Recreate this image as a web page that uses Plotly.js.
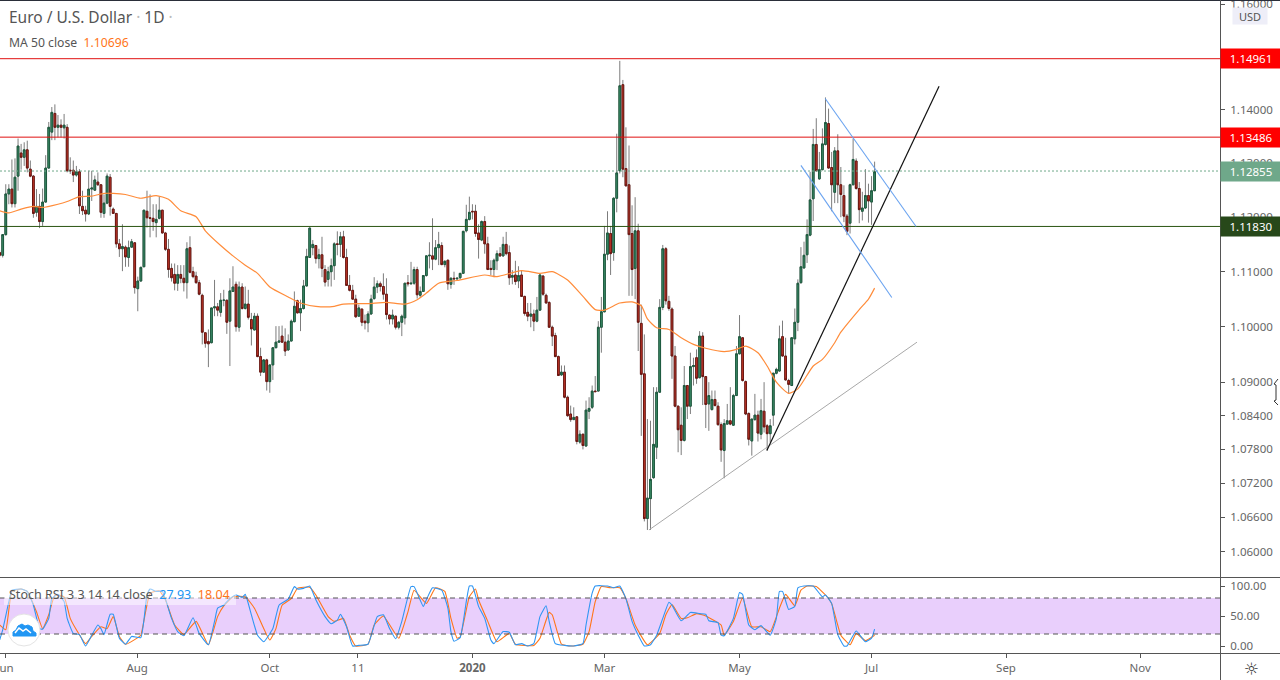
<!DOCTYPE html>
<html>
<head>
<meta charset="utf-8">
<script src="https://cdn.plot.ly/plotly-3.0.1.min.js"></script>
<style>html,body{margin:0;padding:0;background:#fff;overflow:hidden}#chart{width:1280px;height:680px}</style>
</head>
<body>
<div id="chart"></div>
<script>
const firstBar = -1;
const opens = [
1.1135,1.1130,1.1168,1.1243,1.1252,1.1225,1.1276,1.1319,1.1311,1.1325,
1.1289,1.1276,1.1209,1.1220,1.1192,1.1228,1.1291,1.1358,1.1393,1.1367,1.1371,
1.1366,1.1367,1.1287,1.1287,1.1278,1.1284,1.1220,1.1213,1.1206,1.1252,
1.1250,1.1265,1.1260,1.1207,1.1226,1.1274,1.1215,1.1207,1.1151,1.1142,
1.1145,1.1126,1.1145,1.1153,1.1069,1.1083,1.1109,1.1211,1.1199,1.1198,
1.1190,1.1198,1.1213,1.1171,1.1141,1.1106,1.1095,1.1079,1.1095,1.1088,
1.1080,1.1144,1.1100,1.1092,1.1080,1.1057,1.0989,1.0973,1.0971,1.1034,
1.1036,1.1026,1.1048,1.1048,1.1010,1.1064,1.1077,1.0999,1.1072,1.1033,
1.1041,1.1013,1.0994,1.1019,1.0946,1.0918,1.0940,1.0901,1.0931,1.0962,
1.0972,1.0983,1.0972,1.0958,1.0974,1.1009,1.1047,1.1025,1.1033,1.1074,
1.1126,1.1144,1.1148,1.1124,1.1131,1.1104,1.1086,1.1100,1.1111,1.1151,
1.1150,1.1164,1.1126,1.1075,1.1066,1.1050,1.1019,1.1032,1.1010,1.1007,
1.1023,1.1051,1.1072,1.1078,1.1073,1.1059,1.1021,1.1014,1.1019,1.0999,
1.1008,1.1016,1.1080,1.1078,1.1079,1.1104,1.1057,1.1064,1.1093,1.1129,
1.1129,1.1123,1.1144,1.1148,1.1113,1.1121,1.1077,1.1088,1.1087,1.1089,
1.1097,1.1175,1.1196,1.1211,1.1211,1.1171,1.1158,1.1192,1.1151,1.1106,
1.1104,1.1120,1.1133,1.1129,1.1150,1.1135,1.1090,1.1094,1.1083,1.1094,
1.1055,1.1026,1.1019,1.1023,1.1010,1.1030,1.1092,1.1057,1.1044,1.0999,
1.0984,1.0946,1.0913,1.0918,1.0873,1.0843,1.0833,1.0838,1.0793,1.0807,
1.0786,1.0848,1.0855,1.0884,1.0884,1.0999,1.1027,1.1132,1.1170,1.1135,
1.1235,1.1286,1.1447,1.1290,1.1260,1.1170,1.1106,1.1175,1.1006,1.0915,
1.0658,1.0693,1.0730,1.0784,1.0882,1.1035,1.1142,1.1046,1.1032,1.0947,
1.0857,1.0823,1.0796,1.0894,1.0857,1.0928,1.0944,1.0908,1.0983,1.0910,
1.0861,1.0851,1.0869,1.0857,1.0824,1.0778,1.0825,1.0831,1.0823,1.0876,
1.0951,1.0980,1.0901,1.0844,1.0795,1.0833,1.0841,1.0807,1.0848,1.0822,
1.0808,1.0841,1.0916,1.0920,1.0982,1.0947,1.0903,1.0894,1.0978,1.1008,
1.1080,1.1107,1.1131,1.1167,1.1234,1.1335,1.1271,1.1288,1.1335,1.1374,
1.1292,1.1246,1.1323,1.1260,1.1240,1.1202,1.1189,1.1260,1.1304,1.1253,
1.1211,1.1217,1.1240,1.1228,1.1249];
const highs = [
1.1139,1.1169,1.1261,1.1261,1.1307,1.1309,1.1346,1.1336,1.1339,1.1342,
1.1305,1.1278,1.1252,1.1243,1.1253,1.1315,1.1377,1.1405,1.1410,1.1390,1.1382,
1.1392,1.1373,1.1311,1.1305,1.1295,1.1289,1.1249,1.1221,1.1286,1.1286,
1.1277,1.1283,1.1261,1.1242,1.1281,1.1280,1.1218,1.1207,1.1160,1.1187,
1.1148,1.1157,1.1160,1.1153,1.1091,1.1109,1.1213,1.1249,1.1242,1.1224,
1.1224,1.1238,1.1213,1.1173,1.1160,1.1115,1.1115,1.1112,1.1112,1.1112,
1.1154,1.1165,1.1109,1.1100,1.1085,1.1060,1.0989,1.0995,1.1034,1.1085,
1.1043,1.1061,1.1067,1.1049,1.1088,1.1110,1.1082,1.1082,1.1079,1.1073,
1.1067,1.1025,1.1025,1.1024,1.0962,1.0941,1.0942,1.0931,1.0962,1.1001,
1.1001,1.1002,1.0997,1.0986,1.1013,1.1064,1.1049,1.1049,1.1085,1.1142,
1.1181,1.1158,1.1148,1.1142,1.1164,1.1112,1.1109,1.1124,1.1154,1.1174,
1.1173,1.1175,1.1142,1.1094,1.1076,1.1058,1.1040,1.1032,1.1022,1.1028,
1.1058,1.1090,1.1084,1.1082,1.1097,1.1088,1.1022,1.1031,1.1020,1.1010,
1.1022,1.1079,1.1094,1.1118,1.1109,1.1109,1.1073,1.1094,1.1130,1.1154,
1.1198,1.1158,1.1173,1.1154,1.1121,1.1122,1.1090,1.1100,1.1090,1.1097,
1.1175,1.1223,1.1238,1.1224,1.1223,1.1187,1.1194,1.1202,1.1164,1.1121,
1.1124,1.1139,1.1145,1.1164,1.1173,1.1148,1.1103,1.1120,1.1110,1.1103,
1.1056,1.1043,1.1043,1.1031,1.1054,1.1096,1.1094,1.1060,1.1046,1.1002,
1.0989,1.0948,1.0930,1.0930,1.0876,1.0858,1.0855,1.0839,1.0814,1.0808,
1.0867,1.0873,1.0894,1.0911,1.1010,1.1054,1.1184,1.1211,1.1184,1.1237,
1.1355,1.1492,1.1456,1.1367,1.1333,1.1222,1.1237,1.1188,1.1040,1.0986,
1.0834,1.0831,1.0891,1.0891,1.1050,1.1149,1.1145,1.1056,1.1035,1.0965,
1.0858,1.0855,1.0929,1.0895,1.0953,1.0944,1.0959,1.0992,1.0990,1.0911,
1.0900,1.0885,1.0885,1.0864,1.0828,1.0834,1.0861,1.0891,1.0879,1.0965,
1.1021,1.0980,1.0903,1.0846,1.0834,1.0879,1.0849,1.0870,1.0900,1.0825,
1.0834,1.0917,1.0926,1.1002,1.1011,1.0980,1.0906,1.0980,1.1033,1.1086,
1.1145,1.1155,1.1196,1.1284,1.1364,1.1384,1.1321,1.1365,1.1423,1.1402,
1.1321,1.1330,1.1354,1.1293,1.1259,1.1206,1.1262,1.1346,1.1309,1.1265,
1.1247,1.1289,1.1262,1.1276,1.1303];
const lows = [
1.1126,1.1126,1.1166,1.1224,1.1218,1.1218,1.1249,1.1288,1.1295,1.1283,
1.1274,1.1199,1.1201,1.1180,1.1184,1.1227,1.1290,1.1343,1.1343,1.1348,1.1348,
1.1346,1.1283,1.1280,1.1265,1.1275,1.1206,1.1204,1.1192,1.1204,1.1230,
1.1249,1.1258,1.1199,1.1199,1.1224,1.1203,1.1206,1.1144,1.1127,1.1101,
1.1109,1.1109,1.1144,1.1060,1.1028,1.1082,1.1109,1.1181,1.1163,1.1175,
1.1163,1.1196,1.1170,1.1138,1.1089,1.1082,1.1066,1.1065,1.1079,1.1064,
1.1051,1.1097,1.1088,1.1078,1.1057,1.0968,1.0962,1.0927,1.0970,1.1019,
1.1019,1.1018,1.1037,1.0987,1.0929,1.1064,1.0991,1.0991,1.1031,1.1031,
1.1013,1.0966,1.0994,1.0945,1.0911,1.0917,1.0885,1.0881,1.0904,1.0961,
1.0971,1.0971,1.0947,1.0956,1.0974,1.1008,1.1024,1.0992,1.1031,1.1073,
1.1126,1.1130,1.1115,1.1106,1.1090,1.1073,1.1073,1.1073,1.1085,1.1130,
1.1127,1.1124,1.1074,1.1064,1.1049,1.1016,1.1018,1.1001,1.0995,1.0990,
1.1022,1.1049,1.1061,1.1064,1.1049,1.1013,1.1004,1.1004,1.0995,1.0995,
1.0983,1.1004,1.1073,1.1076,1.1076,1.1051,1.1052,1.1063,1.1091,1.1106,
1.1103,1.1121,1.1112,1.1112,1.1108,1.1067,1.1069,1.1076,1.1084,1.1086,
1.1097,1.1172,1.1194,1.1196,1.1164,1.1124,1.1156,1.1133,1.1103,1.1094,
1.1090,1.1103,1.1127,1.1127,1.1130,1.1076,1.1077,1.1076,1.1070,1.1054,
1.1020,1.1010,1.0999,1.0992,1.1008,1.1030,1.1056,1.1042,1.0998,1.0965,
1.0945,1.0911,1.0911,1.0871,1.0838,1.0829,1.0833,1.0789,1.0790,1.0780,
1.0785,1.0834,1.0852,1.0883,1.0884,1.0953,1.1026,1.1121,1.1094,1.1120,
1.1209,1.1281,1.1274,1.1257,1.1056,1.1056,1.1050,1.0956,1.0804,1.0653,
1.0638,1.0638,1.0728,1.0763,1.0881,1.1030,1.1040,1.1029,1.0906,1.0855,
1.0775,1.0770,1.0794,1.0834,1.0843,1.0894,1.0897,1.0907,1.0859,1.0818,
1.0813,1.0849,1.0857,1.0822,1.0758,1.0729,1.0824,1.0823,1.0822,1.0876,
1.0950,1.0901,1.0841,1.0787,1.0769,1.0831,1.0794,1.0798,1.0810,1.0778,
1.0792,1.0822,1.0914,1.0919,1.0946,1.0903,1.0879,1.0893,1.0968,1.0992,
1.1078,1.1105,1.1116,1.1165,1.1193,1.1284,1.1269,1.1287,1.1333,1.1290,
1.1211,1.1226,1.1226,1.1200,1.1191,1.1167,1.1170,1.1259,1.1251,1.1189,
1.1194,1.1215,1.1190,1.1186,1.1248];
const closes = [
1.1130,1.1168,1.1243,1.1252,1.1225,1.1274,1.1332,1.1311,1.1325,1.1291,
1.1276,1.1207,1.1220,1.1192,1.1228,1.1291,1.1367,1.1395,1.1367,1.1371,1.1367,
1.1371,1.1286,1.1286,1.1278,1.1284,1.1221,1.1212,1.1206,1.1252,1.1254,
1.1269,1.1260,1.1209,1.1226,1.1276,1.1220,1.1207,1.1151,1.1142,1.1146,
1.1127,1.1144,1.1155,1.1071,1.1083,1.1108,1.1213,1.1199,1.1198,1.1192,
1.1196,1.1213,1.1171,1.1141,1.1104,1.1089,1.1079,1.1095,1.1088,1.1080,
1.1142,1.1099,1.1091,1.1080,1.1059,1.0990,1.0970,1.0969,1.1034,1.1036,
1.1030,1.1048,1.1048,1.1008,1.1065,1.1072,1.1000,1.1072,1.1033,1.1041,
1.1017,1.0996,1.1019,1.0946,1.0918,1.0940,1.0901,1.0931,1.0962,1.0972,
1.0974,1.0972,1.0956,1.0974,1.1010,1.1037,1.1025,1.1033,1.1074,1.1128,
1.1180,1.1150,1.1124,1.1131,1.1106,1.1081,1.1100,1.1111,1.1151,1.1150,
1.1164,1.1126,1.1075,1.1066,1.1050,1.1018,1.1034,1.1008,1.1007,1.1023,
1.1050,1.1072,1.1078,1.1073,1.1059,1.1022,1.1014,1.1021,1.0999,1.1008,
1.1019,1.1079,1.1078,1.1079,1.1104,1.1058,1.1064,1.1093,1.1129,1.1130,
1.1123,1.1144,1.1150,1.1113,1.1119,1.1078,1.1088,1.1087,1.1088,1.1097,
1.1174,1.1196,1.1209,1.1210,1.1170,1.1159,1.1192,1.1151,1.1104,1.1104,
1.1121,1.1133,1.1129,1.1150,1.1133,1.1089,1.1093,1.1082,1.1093,1.1055,
1.1024,1.1019,1.1023,1.1010,1.1030,1.1094,1.1059,1.1043,1.0999,1.0983,
1.0946,1.0912,1.0918,1.0873,1.0840,1.0833,1.0837,1.0794,1.0807,1.0787,
1.0850,1.0853,1.0884,1.0883,1.0999,1.1027,1.1132,1.1171,1.1133,1.1235,
1.1282,1.1445,1.1289,1.1258,1.1168,1.1104,1.1175,1.1008,1.0914,1.0658,
1.0694,1.0727,1.0789,1.0882,1.1035,1.1142,1.1047,1.1033,1.0947,1.0857,
1.0815,1.0796,1.0894,1.0857,1.0928,1.0930,1.0907,1.0983,1.0910,1.0860,
1.0876,1.0869,1.0858,1.0824,1.0779,1.0826,1.0831,1.0825,1.0876,1.0951,
1.0982,1.0903,1.0843,1.0798,1.0834,1.0841,1.0809,1.0849,1.0820,1.0808,
1.0822,1.0916,1.0923,1.0978,1.0947,1.0904,1.0896,1.0980,1.1008,1.1079,
1.1109,1.1130,1.1168,1.1232,1.1335,1.1286,1.1288,1.1336,1.1376,1.1291,
1.1260,1.1323,1.1260,1.1242,1.1202,1.1174,1.1260,1.1307,1.1253,1.1214,
1.1217,1.1240,1.1230,1.1249,1.1284];

const maBars = [-1,2,6,10,13,18,21,25,29,33,36,40,45,50,54,58,63,66,71,75,79,83,87,93,97,102,108,111,119,125,131,135,138,142,148,157,161,169,175,179,184,189,193,196,201,205,208,210,213,217,221,225,229,235,239,242,246,249,252,256,259,264,267,271,273,279,282,284];
const maValues = [1.1212,1.1208,1.1215,1.1220,1.1218,1.1224,1.1229,1.1238,1.1239,1.1244,1.1244,1.1242,1.1235,1.1240,1.1233,1.1212,1.1201,1.1175,1.1148,1.1129,1.1112,1.1097,1.1072,1.1054,1.1043,1.1037,1.1037,1.1041,1.1042,1.1044,1.1041,1.1049,1.1061,1.1079,1.1084,1.1094,1.1091,1.1102,1.1097,1.1100,1.1085,1.1055,1.1031,1.1030,1.1043,1.1045,1.1038,1.1014,1.0998,1.0995,1.0980,1.0968,1.0961,1.0955,1.0959,1.0965,1.0953,1.0929,1.0900,1.0880,1.0888,1.0929,1.0941,1.0971,1.0990,1.1031,1.1050,1.1070];

const kBars = [-1,0,2,3,6,8,10,12,13,15,16,18,20,21,23,25,27,29,31,32,33,35,36,38,40,42,45,47,48,50,52,55,57,59,62,64,67,69,70,72,74,76,78,79,81,83,85,88,90,93,95,96,98,100,102,105,107,109,110,112,114,116,119,122,124,126,128,130,133,134,137,138,140,143,145,146,147,149,151,152,153,155,157,159,160,163,165,167,169,171,173,175,177,178,180,183,186,189,190,192,193,197,199,201,203,205,207,209,211,213,215,217,218,221,224,227,229,230,233,234,235,238,240,241,243,245,247,250,252,253,254,256,258,259,261,264,267,268,270,272,274,275,278,281,283,284];
const kValues = [10,27,74,93,95,91,68,29,28,46,79,86,74,46,21,19,0,18,35,29,19,53,53,13,3,16,14,85,95,91,91,46,24,17,47,21,2,41,63,68,79,85,81,86,52,18,7,29,68,78,99,95,96,100,77,49,37,43,53,32,0,1,3,49,52,29,12,41,99,99,66,77,97,93,63,24,8,14,74,100,100,66,46,10,4,24,23,2,4,0,4,49,67,41,4,1,0,4,35,88,100,100,97,100,79,41,18,0,2,18,46,73,68,42,56,54,53,42,39,18,17,46,89,86,35,27,34,18,46,91,91,61,66,97,100,100,82,85,71,19,0,0,25,7,13,28];
const dBars = [-1,1,3,6,8,11,13,15,17,20,22,24,27,29,32,34,36,38,40,44,45,48,51,53,56,59,63,67,70,72,75,79,82,87,89,91,94,96,100,102,106,108,111,113,115,119,121,124,129,132,134,138,141,144,146,148,149,152,154,155,158,161,165,167,173,175,178,179,182,185,189,191,193,195,198,201,203,206,210,214,216,218,221,223,226,229,234,235,238,241,244,247,250,253,255,258,260,262,265,268,270,273,276,278,281,284];
const dValues = [35,27,91,95,91,57,29,52,85,82,46,27,4,16,32,29,49,16,3,14,18,88,92,77,35,19,41,2,49,67,82,82,63,10,29,68,79,96,98,85,49,41,46,18,0,3,35,50,13,57,93,71,97,91,46,13,15,82,95,77,41,7,21,3,1,13,56,52,3,0,3,24,74,99,97,97,79,35,2,21,52,69,46,47,54,50,35,18,41,80,32,32,24,63,86,67,93,100,99,85,71,18,2,21,9,18];

const grayLineBars = [210.5,297.8];   const grayLinePrices = [1.0638,1.0972];
const blackLineBars = [248.9,305];    const blackLinePrices = [1.0778,1.1444];
const blueUpperBars = [267.9,297.5];  const blueUpperPrices = [1.1421,1.1183];
const blueLowerBars = [260,289.6];    const blueLowerPrices = [1.1296,1.1053];

const priceTicks = [1.06,1.066,1.072,1.078,1.084,1.09,1.10,1.11,1.12,1.13,1.14,1.16];
const priceTickText = ['1.06000','1.06600','1.07200','1.07800','1.08400','1.09000','1.10000','1.11000','1.12000','1.13000','1.14000','1.16000'];
const stochTicks = [0,50,100];
const stochTickText = ['0.00','50.00','100.00'];
const timeTicks = [0.75,43.8,87,115.7,153,196,240,283,326.8,370.5];
const timeTickText = ['Jun','Aug','Oct','11','<b>2020</b>','Mar','May','Jul','Sep','Nov'];
const levels = [1.14961,1.13486,1.12855,1.1183];
const levelText = ['1.14961','1.13486','1.12855','1.11830'];

const W = 1280, H = 680, AX = 1220;
const px = x => x / W, py = y => 1 - y / H;
const xRange = [-0.879, 396.5];
const FONT = '"Noto Sans", "Open Sans", sans-serif';
const GRN = '#3f8f6b', GRNB = '#1c5a3e', RED = '#c93a2a', REDB = '#6b1510', WICK = '#7c7c7c';
const bars = opens.map((_, i) => i + firstBar);
const bodyHigh = opens.map((o, i) => Math.max(o, closes[i]));
const bodyLow = opens.map((o, i) => Math.min(o, closes[i]));
const levelColors = ['#e01010','#e01010','#6fa88a','#2a5410'];
const tagColors = ['#ff0000','#ff0000','#6fa88a','#27481a'];

const candle = (h, l, ic, ifill, dc, dfill) => ({
  type: 'candlestick', x: bars, open: opens, high: h, low: l, close: closes,
  xaxis: 'x', yaxis: 'y', hoverinfo: 'skip', showlegend: false, whiskerwidth: 0,
  increasing: {line: {color: ic, width: 1}, fillcolor: ifill},
  decreasing: {line: {color: dc, width: 1}, fillcolor: dfill}
});
const lineT = (x, y, color, width, extra) => Object.assign({
  type: 'scatter', mode: 'lines', x, y, xaxis: 'x', yaxis: 'y', hoverinfo: 'skip', showlegend: false,
  line: {color, width}
}, extra || {});

const traces = [
  candle(highs, lows, WICK, WICK, WICK, WICK),
  candle(bodyHigh, bodyLow, GRNB, GRN, REDB, RED),
  lineT(maBars, maValues, '#ff8c3a', 1.2, {line: {color: '#ff8c3a', width: 1.2, shape: 'spline', smoothing: 0.6}}),
  ...levels.map((v, i) => lineT(xRange, [v, v], levelColors[i], 1, i === 2 ? {line: {color: levelColors[i], width: 1, dash: '2px,2px'}} : {})),
  lineT(grayLineBars, grayLinePrices, '#a8a8a8', 1),
  lineT(blackLineBars, blackLinePrices, '#111111', 1.2),
  lineT(blueUpperBars, blueUpperPrices, '#6aa3f0', 1.1),
  lineT(blueLowerBars, blueLowerPrices, '#6aa3f0', 1.1),
  lineT(dBars, dValues, '#ff7518', 1.1, {yaxis: 'y2', line: {color: '#ff7518', width: 1.1, shape: 'spline', smoothing: 0.4}}),
  lineT(kBars, kValues, '#2f96f3', 1.1, {yaxis: 'y2', line: {color: '#2f96f3', width: 1.1, shape: 'spline', smoothing: 0.4}})
];

const fullLine = (y, color) => ({type: 'line', xref: 'paper', yref: 'paper', x0: 0, x1: 1, y0: py(y), y1: py(y), line: {color, width: 1}});
const pathOf = pts => 'M' + pts.map(p => px(p[0]) + ',' + py(p[1])).join(' L');
const cloud = pathOf([[13,636],[13,632],[16,630],[18,626],[22,624],[25,626],[28,625],[32,627],[33,631],[36,633],[36,636]]) + ' Z';
const zig = pathOf([[15,633],[19,628],[23,631],[26,629],[31,633]]);
const pointer = pathOf([[1278,379],[1274,384],[1276,385],[1276,400],[1274,401],[1278,405]]);

const shapes = [
  {type: 'rect', xref: 'paper', yref: 'y2', x0: 0, x1: px(AX), y0: 20, y1: 80, fillcolor: '#e9cffc', line: {width: 0}, layer: 'below'},
  {type: 'line', xref: 'paper', yref: 'y2', x0: 0, x1: px(AX), y0: 80, y1: 80, line: {color: '#555', width: 1, dash: '5px,4px'}, layer: 'above'},
  {type: 'line', xref: 'paper', yref: 'y2', x0: 0, x1: px(AX), y0: 20, y1: 20, line: {color: '#555', width: 1, dash: '5px,4px'}, layer: 'above'},
  fullLine(0.5, '#2a2e39'), fullLine(577.5, '#555'), fullLine(653.5, '#555'),
  {type: 'line', xref: 'paper', yref: 'paper', x0: px(AX + 0.5), x1: px(AX + 0.5), y0: 0, y1: 1, line: {color: '#555', width: 1}},
  {type: 'rect', xref: 'paper', yref: 'paper', x0: px(4), x1: px(236), y0: py(605), y1: py(586), fillcolor: 'rgba(255,255,255,0.5)', line: {width: 0}},
  {type: 'circle', xref: 'paper', yref: 'paper', x0: px(8), x1: px(40), y0: py(646), y1: py(614), fillcolor: '#ffffff', line: {color: '#e4e4e4', width: 1}},
  {type: 'path', xref: 'paper', yref: 'paper', path: cloud, fillcolor: '#2196f3', line: {color: '#2196f3', width: 1}},
  {type: 'path', xref: 'paper', yref: 'paper', path: zig, line: {color: '#ffffff', width: 1.5}},
  {type: 'path', xref: 'paper', yref: 'paper', path: pointer, line: {color: '#333333', width: 1}}
];

const textAt = (x, y, text, size, color, extra) => Object.assign({
  xref: 'paper', yref: 'paper', x: px(x), y: py(y), xanchor: 'left', yanchor: 'middle',
  text, showarrow: false, align: 'left', font: {family: FONT, size, color}
}, extra || {});

const annotations = [
  textAt(7, 17, 'Euro / U.S. Dollar <span style="color:#bbb">·</span> 1D <span style="color:#bbb">·</span>', 15.5, '#555'),
  textAt(7, 42, 'MA 50 close  <span style="color:#ff7518">1.10696</span>', 12.2, '#555'),
  textAt(7, 594, 'Stoch RSI 3 3 14 14 close  <span style="color:#2196f3">27.93</span>  <span style="color:#ff7518">18.04</span>', 12.5, '#555'),
  ...levels.map((v, i) => ({
    xref: 'paper', yref: 'y', x: px(AX), y: Math.log10(v), xanchor: 'left', yanchor: 'middle',
    text: levelText[i], showarrow: false, width: 60, height: 19, borderpad: 0, bgcolor: tagColors[i],
    font: {family: FONT, size: 11.5, color: '#ffffff'}
  })),
  {xref: 'paper', yref: 'paper', x: px(1250), y: py(16), xanchor: 'center', yanchor: 'middle', text: 'USD',
   showarrow: false, width: 34, height: 16, borderpad: 0, bgcolor: '#eeeef8', font: {family: FONT, size: 11, color: '#555'}},
  {xref: 'paper', yref: 'paper', x: px(1251), y: py(669), xanchor: 'center', yanchor: 'middle', text: '☼',
   showarrow: false, font: {family: 'DejaVu Sans', size: 17, color: '#333'}}
];

const yCommon = {
  side: 'right', anchor: 'x', showgrid: false, zeroline: false, showline: false,
  ticks: 'outside', ticklen: 4, tickwidth: 1, tickcolor: '#555', ticklabelstandoff: 3, ticklabeloverflow: 'allow',
  tickfont: {family: FONT, size: 11.5, color: '#666'}, tickmode: 'array', fixedrange: true
};
const layout = {
  width: W, height: H, margin: {l: 0, r: 0, t: 0, b: 0, pad: 0, autoexpand: false},
  paper_bgcolor: '#ffffff', plot_bgcolor: 'rgba(0,0,0,0)', showlegend: false, dragmode: false,
  boxgap: 0.2,
  xaxis: {
    type: 'linear', domain: [0, px(AX)], range: xRange, anchor: 'y2', rangeslider: {visible: false},
    showgrid: false, zeroline: false, showline: false, ticks: 'outside', ticklen: 4, tickwidth: 1, tickcolor: '#555',
    tickmode: 'array', tickvals: timeTicks, ticktext: timeTickText, tickangle: 0, automargin: false, ticklabeloverflow: 'allow',
    tickfont: {family: FONT, size: 11.5, color: '#666'}, fixedrange: true
  },
  yaxis: Object.assign({}, yCommon, {
    type: 'log', domain: [py(577), 1], range: [0.023498, 0.064747],
    tickvals: priceTicks, ticktext: priceTickText
  }),
  yaxis2: Object.assign({}, yCommon, {
    type: 'linear', domain: [py(653), py(577)], range: [-11.67, 115],
    tickvals: stochTicks, ticktext: stochTickText
  }),
  shapes, annotations
};
Plotly.newPlot('chart', traces, layout, {displayModeBar: false, staticPlot: true});
</script>
</body>
</html>
